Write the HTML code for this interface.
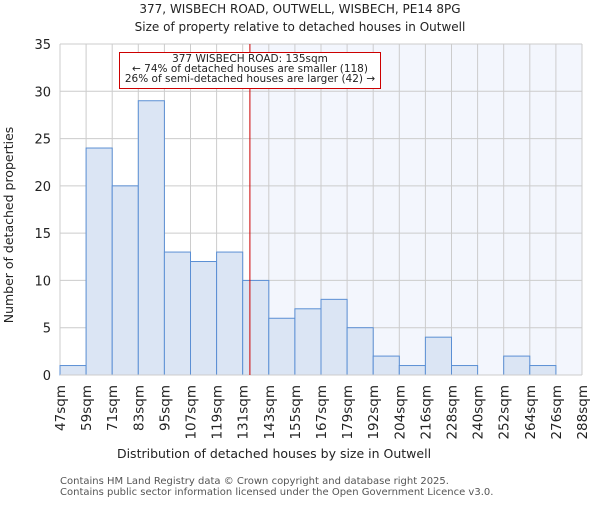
<!DOCTYPE html>
<html><head><meta charset="utf-8"><style>
body{margin:0;background:#fff;}
svg text{font-family:"DejaVu Sans","Liberation Sans",sans-serif;fill:#222;}
</style></head><body>
<svg id="chart" width="600" height="500" xmlns="http://www.w3.org/2000/svg">
<text x="300" y="13" text-anchor="middle" font-size="12">377, WISBECH ROAD, OUTWELL, WISBECH, PE14 8PG</text>
<text x="300" y="31" text-anchor="middle" font-size="12">Size of property relative to detached houses in Outwell</text>
<g id="plot"></g>
<text x="274" y="458" text-anchor="middle" font-size="12.5">Distribution of detached houses by size in Outwell</text>
<text transform="translate(13,225) rotate(-90)" text-anchor="middle" font-size="12.5">Number of detached properties</text>
<text x="60" y="484" font-size="10" style="fill:#555">Contains HM Land Registry data © Crown copyright and database right 2025.</text>
<text x="60" y="495" font-size="10" style="fill:#555">Contains public sector information licensed under the Open Government Licence v3.0.</text>
</svg>
<script>
const categories=["47sqm","59sqm","71sqm","83sqm","95sqm","107sqm","119sqm","131sqm","143sqm","155sqm","167sqm","179sqm","192sqm","204sqm","216sqm","228sqm","240sqm","252sqm","264sqm","276sqm","288sqm"];
const counts=[1,24,20,29,13,12,13,10,6,7,8,5,2,1,4,1,0,2,1,0];
const yTicks=[0,5,10,15,20,25,30,35];
const propertySize=135;
const binStarts=[47,59,71,83,95,107,119,131,143,155,167,179,192,204,216,228,240,252,264,276,288];
const NS="http://www.w3.org/2000/svg";
const L=60,R=582,T=44,B=375,YMAX=35;
const nb=counts.length,bw=(R-L)/nb;
const y=v=>B-(B-T)*v/YMAX;
const xi=i=>L+i*bw;
function xv(v){let i=0;while(i<nb-1&&v>=binStarts[i+1])i++;return xi(i)+bw*(v-binStarts[i])/(binStarts[i+1]-binStarts[i]);}
const g=document.getElementById('plot');
function mk(t,a){const e=document.createElementNS(NS,t);for(const k in a)e.setAttribute(k,a[k]);g.appendChild(e);return e;}
const lx=xv(propertySize)-1.5;
const sh=mk('rect',{x:lx,y:T,width:R-lx,height:B-T,fill:'#f3f6fd'});


yTicks.forEach(v=>{
 const l=mk('line',{x1:L,x2:R,y1:y(v),y2:y(v),stroke:'#ccc','stroke-width':1});
 
 
 const t=mk('text',{x:L-9,y:y(v)+5,'text-anchor':'end','font-size':13});
 t.textContent=v;
 
 
});
categories.forEach((c,i)=>{
 const l=mk('line',{x1:xi(i),x2:xi(i),y1:T,y2:B,stroke:'#ccc','stroke-width':1});
 
 
 const t=mk('text',{transform:`translate(${xi(i)+5},${B+10}) rotate(-90)`,'text-anchor':'end','font-size':13.5});
 t.textContent=c;
 
 
});
counts.forEach((v,i)=>{
 if(v<=0)return;
 const r=mk('rect',{x:xi(i),y:y(v),width:bw,height:B-y(v),fill:'#dbe5f4',stroke:'#5b8fd4','stroke-width':1});
 
 
});
const ax=mk('line',{x1:L,x2:R,y1:B,y2:B,stroke:'#ccc'});


const ml=mk('line',{x1:lx,x2:lx,y1:T,y2:B,stroke:'#cc0000','stroke-width':1});


const bx=mk('rect',{x:119.5,y:52.5,width:261,height:36,fill:'#fff',stroke:'#cc0000','stroke-width':1});


["377 WISBECH ROAD: 135sqm","← 74% of detached houses are smaller (118)","26% of semi-detached houses are larger (42) →"].forEach((s,k)=>{
 const t=mk('text',{x:250,y:62+k*10,'text-anchor':'middle','font-size':10.5});
 t.textContent=s;
 
 
});
</script>
</body></html>
